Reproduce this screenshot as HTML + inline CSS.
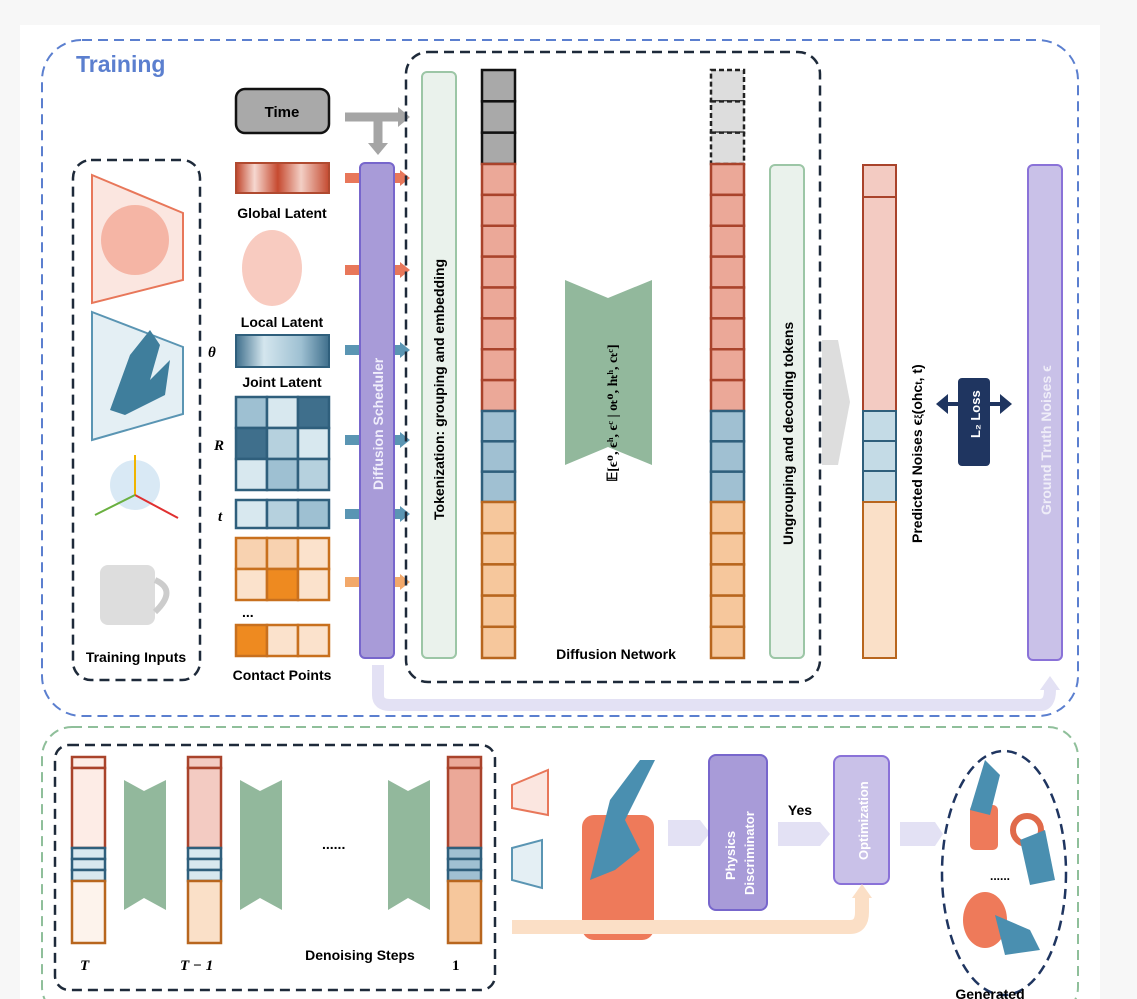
<!DOCTYPE html>
<html><head><meta charset="utf-8"><style>
body{margin:0;background:#fff;}
svg{display:block;font-family:"Liberation Sans",sans-serif;}
</style></head><body>
<svg id="s" width="1137" height="999" viewBox="0 0 1137 999" xmlns="http://www.w3.org/2000/svg">
<defs>
<linearGradient id="gl" x1="0" x2="1"><stop offset="0" stop-color="#c0442a"/><stop offset=".2" stop-color="#f6d8d0"/><stop offset=".45" stop-color="#c64a30"/><stop offset=".7" stop-color="#f3cfc5"/><stop offset="1" stop-color="#c44a30"/></linearGradient>
<linearGradient id="jl" x1="0" x2="1"><stop offset="0" stop-color="#3f6f8c"/><stop offset=".3" stop-color="#d4e6ee"/><stop offset=".7" stop-color="#9ec0d2"/><stop offset="1" stop-color="#3f6f8c"/></linearGradient>
</defs>
<rect x="0" y="0" width="1137" height="999" fill="#f7f7f7"/>
<rect x="20" y="25" width="1080" height="974" fill="#fff"/>
<rect x="42" y="40" width="1036" height="676" rx="40" fill="none" stroke="#5b7fcf" stroke-width="2" stroke-dasharray="10 6"/>
<text x="76" y="72" font-size="23" font-weight="bold" fill="#5b7fcf">Training</text>
<rect x="42" y="727" width="1036" height="290" rx="30" fill="none" stroke="#8fbf9a" stroke-width="2" stroke-dasharray="10 6"/>

<!-- training inputs -->
<rect x="73" y="160" width="127" height="520" rx="18" fill="none" stroke="#1e2a3a" stroke-width="2.5" stroke-dasharray="10 6"/>
<polygon points="92,175 183,213 183,280 92,303" fill="#fbe6e0" stroke="#e8775a" stroke-width="2"/>
<ellipse cx="135" cy="240" rx="34" ry="35" fill="#f2a08c" opacity=".7"/>
<polygon points="92,312 183,347 183,414 92,440" fill="#e4eff4" stroke="#5a95b3" stroke-width="2"/>
<path d="M110,410 L130,355 L150,330 L160,345 L150,380 L170,360 L165,395 L125,415 Z" fill="#3f7e9c"/>
<circle cx="135" cy="485" r="25" fill="#cfe3f3" opacity=".8"/>
<line x1="135" y1="495" x2="135" y2="455" stroke="#f0b400" stroke-width="2"/>
<line x1="135" y1="495" x2="178" y2="518" stroke="#e03030" stroke-width="2"/>
<line x1="135" y1="495" x2="95" y2="515" stroke="#6ab040" stroke-width="2"/>
<rect x="100" y="565" width="55" height="60" rx="8" fill="#ddd"/>
<path d="M155,580 Q178,590 155,612" fill="none" stroke="#ccc" stroke-width="6"/>
<text x="136" y="662" font-size="14" font-weight="bold" text-anchor="middle">Training Inputs</text>

<!-- latents -->
<rect x="236" y="89" width="93" height="44" rx="9" fill="#a9a9a9" stroke="#111" stroke-width="2.5"/>
<text x="282" y="117" font-size="15" font-weight="bold" text-anchor="middle">Time</text>
<path d="M345,117 H400 M378,117 V145" stroke="#a5a5a5" stroke-width="9" fill="none"/>
<polygon points="398,107 410,117 398,127" fill="#a5a5a5"/>
<polygon points="368,143 388,143 378,155" fill="#a5a5a5"/>
<rect x="236" y="163" width="93" height="30" fill="url(#gl)" stroke="#b04a30" stroke-width="2"/>
<text x="282" y="218" font-size="14" font-weight="bold" text-anchor="middle">Global Latent</text>
<ellipse cx="272" cy="268" rx="30" ry="38" fill="#f2a08c" opacity=".55"/>
<text x="282" y="327" font-size="14" font-weight="bold" text-anchor="middle">Local Latent</text>
<text x="208" y="357" font-size="15" font-weight="bold" font-style="italic" font-family="Liberation Serif">θ</text>
<rect x="236" y="335" width="93" height="32" fill="url(#jl)" stroke="#2f5f7c" stroke-width="2"/>
<text x="282" y="387" font-size="14" font-weight="bold" text-anchor="middle">Joint Latent</text>
<text x="214" y="450" font-size="15" font-weight="bold" font-style="italic" font-family="Liberation Serif">R</text>
<text x="218" y="521" font-size="15" font-weight="bold" font-style="italic" font-family="Liberation Serif">t</text>
<g id="mats"></g>
<text x="242" y="617" font-size="14" font-weight="bold">...</text>
<text x="282" y="680" font-size="14" font-weight="bold" text-anchor="middle">Contact Points</text>
<g id="arrows"></g>

<rect x="360" y="163" width="34" height="495" rx="5" fill="#a89bd8" stroke="#7766cc" stroke-width="2"/>
<text transform="translate(383,490) rotate(-90)" font-size="14" fill="#f0eefb" font-weight="bold">Diffusion Scheduler</text>

<rect x="406" y="52" width="414" height="630" rx="22" fill="none" stroke="#1e2a3a" stroke-width="2.5" stroke-dasharray="10 6"/>
<rect x="422" y="72" width="34" height="586" rx="5" fill="#eaf2ec" stroke="#9cc6a6" stroke-width="2"/>
<text transform="translate(444,520) rotate(-90)" font-size="14" font-weight="bold">Tokenization: grouping and embedding</text>
<rect x="770" y="165" width="34" height="493" rx="5" fill="#eaf2ec" stroke="#9cc6a6" stroke-width="2"/>
<text transform="translate(793,545) rotate(-90)" font-size="14" font-weight="bold">Ungrouping and decoding tokens</text>
<polygon points="565,280 608,298 652,280 652,465 608,447 565,465" fill="#92b89c"/>
<text transform="translate(617,482) rotate(-90)" font-size="14" font-weight="bold" font-family="Liberation Serif">𝔼[ϵᴼ, ϵʰ, ϵᶜ | oₜᴼ, hₜʰ, cₜᶜ]</text>
<text x="616" y="659" font-size="14" font-weight="bold" text-anchor="middle">Diffusion Network</text>
<g id="stacks"></g>
<polygon points="822,340 838,340 850,402 838,465 822,465" fill="#ddd"/>

<rect x="863" y="165" width="33" height="32" fill="#f3cbc2" stroke="#a9432b" stroke-width="2"/>
<rect x="863" y="197" width="33" height="214" fill="#f3cbc2" stroke="#a9432b" stroke-width="2"/>
<rect x="863" y="411" width="33" height="30" fill="#c4dbe6" stroke="#2f5f7c" stroke-width="2"/>
<rect x="863" y="441" width="33" height="30" fill="#c4dbe6" stroke="#2f5f7c" stroke-width="2"/>
<rect x="863" y="471" width="33" height="31" fill="#c4dbe6" stroke="#2f5f7c" stroke-width="2"/>
<rect x="863" y="502" width="33" height="156" fill="#fae0c8" stroke="#b8661e" stroke-width="2"/>
<text transform="translate(922,543) rotate(-90)" font-size="14" font-weight="bold">Predicted Noises  ϵ<tspan font-size="10">ξ</tspan>(ohc<tspan font-size="10">t</tspan>, t)</text>
<path d="M940,404 H1007" stroke="#1f3560" stroke-width="4"/>
<polygon points="936,404 948,394 948,414" fill="#1f3560"/><polygon points="1012,404 1000,394 1000,414" fill="#1f3560"/>
<rect x="958" y="378" width="32" height="88" rx="4" fill="#1f3560"/>
<text transform="translate(980,438) rotate(-90)" font-size="13" font-weight="bold" fill="#fff">L₂ Loss</text>
<rect x="1028" y="165" width="34" height="495" rx="5" fill="#c9c1e8" stroke="#8a72d8" stroke-width="2"/>
<text transform="translate(1051,515) rotate(-90)" font-size="14" font-weight="bold" fill="#efedf8">Ground Truth Noises ϵ</text>
<path d="M378,665 V695 Q378,705 390,705 H1040 Q1050,705 1050,690" stroke="#e3e1f4" stroke-width="12" fill="none"/>
<polygon points="1040,690 1060,690 1050,676" fill="#e3e1f4"/>

<!-- inference -->
<rect x="55" y="745" width="440" height="245" rx="14" fill="none" stroke="#1e2a3a" stroke-width="2.5" stroke-dasharray="10 6"/>
<g id="inf"></g>
<text x="80" y="970" font-size="15" font-weight="bold" font-style="italic" font-family="Liberation Serif">T</text>
<text x="180" y="970" font-size="15" font-weight="bold" font-style="italic" font-family="Liberation Serif">T − 1</text>
<text x="452" y="970" font-size="15" font-weight="bold" font-family="Liberation Serif">1</text>
<text x="360" y="960" font-size="14" font-weight="bold" text-anchor="middle">Denoising Steps</text>
<text x="322" y="849" font-size="14" font-weight="bold">......</text>
<polygon points="512,785 548,770 548,815 512,808" fill="#fbe6e0" stroke="#e8775a" stroke-width="2"/>
<polygon points="512,848 542,840 542,888 512,880" fill="#e4eff4" stroke="#5a95b3" stroke-width="2"/>
<rect x="582" y="815" width="72" height="125" rx="12" fill="#ee7a5a"/>
<path d="M590,880 L610,800 L640,760 L655,760 L625,820 L640,850 L615,870 Z" fill="#4a8fb0"/>
<polygon points="668,820 700,820 710,833 700,846 668,846" fill="#e3e1f4"/>
<rect x="709" y="755" width="58" height="155" rx="7" fill="#a89bd8" stroke="#7766cc" stroke-width="2"/>
<text transform="translate(735,880) rotate(-90)" font-size="13" font-weight="bold" fill="#fff">Physics</text>
<text transform="translate(754,895) rotate(-90)" font-size="13" font-weight="bold" fill="#fff">Discriminator</text>
<text x="800" y="815" font-size="14" font-weight="bold" text-anchor="middle">Yes</text>
<polygon points="778,822 820,822 830,834 820,846 778,846" fill="#e3e1f4"/>
<rect x="834" y="756" width="55" height="128" rx="7" fill="#c9c1e8" stroke="#8a72d8" stroke-width="2"/>
<text transform="translate(868,860) rotate(-90)" font-size="13" font-weight="bold" fill="#fff">Optimization</text>
<path d="M512,927 H850 Q862,927 862,912 V895" stroke="#fbdfc6" stroke-width="14" fill="none"/>
<polygon points="852,898 872,898 862,884" fill="#fbdfc6"/>
<polygon points="900,822 935,822 943,834 935,846 900,846" fill="#e3e1f4"/>
<ellipse cx="1004" cy="873" rx="62" ry="122" fill="none" stroke="#1f3560" stroke-width="2.5" stroke-dasharray="10 6"/>
<rect x="970" y="805" width="28" height="45" rx="5" fill="#ee7a5a"/>
<path d="M970,810 L985,760 L1000,775 L990,815 Z" fill="#4a8fb0"/>
<circle cx="1027" cy="830" r="14" fill="none" stroke="#e06a4a" stroke-width="6"/>
<path d="M1020,840 L1045,830 L1055,880 L1030,885 Z" fill="#4a8fb0"/>
<text x="990" y="880" font-size="12" font-weight="bold">......</text>
<ellipse cx="985" cy="920" rx="22" ry="28" fill="#ee7a5a"/>
<path d="M995,915 L1030,930 L1040,950 L1005,955 Z" fill="#4a8fb0"/>
<text x="990" y="999" font-size="14" font-weight="bold" text-anchor="middle">Generated</text>
</svg>
<script>
const NS='http://www.w3.org/2000/svg';
const svg=document.getElementById('s');
function R(p,a){const e=document.createElementNS(NS,'rect');for(const k in a)e.setAttribute(k,a[k]);p.appendChild(e);return e;}
const C={g:['#a9a9a9','#111'],gd:['#ddd','#222'],r:['#eba898','#a9432b'],b:['#a0c0d2','#2f5f7c'],o:['#f6c79c','#b8661e']};
const stackGroups=[['g',3],['r',8],['b',3],['o',5]];
const stackBounds=[70,164,411,502,658];
const st=document.getElementById('stacks');
[[482,'g'],[711,'gd']].forEach(([x,first])=>{
 stackGroups.forEach(([c,n],gi)=>{
  const col=gi===0?first:c;const y0=stackBounds[gi],h=(stackBounds[gi+1]-y0)/n;
  for(let i=0;i<n;i++){const e=R(st,{x:x,y:y0+i*h,width:33,height:h,fill:C[col][0],stroke:C[col][1],'stroke-width':2.5});
   if(col==='gd')e.setAttribute('stroke-dasharray','5 3');
   
   }
 });
});
const m=document.getElementById('mats');
const rot=[['#9ec0d2','#d8e8ef','#3f6f8c'],['#3f6f8c','#b6d1de','#d8e8ef'],['#d8e8ef','#9ec0d2','#b6d1de']];
rot.forEach((row,r)=>row.forEach((f,c)=>R(m,{x:236+c*31,y:397+r*31,width:31,height:31,fill:f,stroke:'#2f5f7c','stroke-width':2.5})));
['#d8e8ef','#b6d1de','#9ec0d2'].forEach((f,c)=>R(m,{x:236+c*31,y:500,width:31,height:28,fill:f,stroke:'#2f5f7c','stroke-width':2.5}));
[['#f8d2b0','#f8d2b0','#fbe2cc'],['#fbe2cc','#ee8a20','#fbe2cc']].forEach((row,r)=>row.forEach((f,c)=>R(m,{x:236+c*31,y:538+r*31,width:31,height:31,fill:f,stroke:'#c8701e','stroke-width':2.5})));
['#ee8a20','#fbe2cc','#fbe2cc'].forEach((f,c)=>R(m,{x:236+c*31,y:625,width:31,height:31,fill:f,stroke:'#c8701e','stroke-width':2.5}));
const ar=document.getElementById('arrows');
[[178,'#e8775a'],[270,'#e8775a'],[350,'#5a95b3'],[440,'#5a95b3'],[514,'#5a95b3'],[582,'#f2a86a']].forEach(([y,c])=>{
 R(ar,{x:345,y:y-5,width:15,height:10,fill:c});R(ar,{x:394,y:y-5,width:8,height:10,fill:c});
 const p=document.createElementNS(NS,'polygon');p.setAttribute('points',`400,${y-8} 410,${y} 400,${y+8}`);p.setAttribute('fill',c);ar.appendChild(p);});
const inf=document.getElementById('inf');
const infCols=[[72,'#fdece6','#fdf3ec'],[188,'#f3cbc2','#fae0c8'],[448,'#eba898','#f6c79c']];
infCols.forEach(([x,rf,of],i)=>{
 R(inf,{x:x,y:757,width:33,height:11,fill:rf,stroke:'#a9432b','stroke-width':2.5});
 R(inf,{x:x,y:768,width:33,height:80,fill:rf,stroke:'#a9432b','stroke-width':2.5});
 for(let k=0;k<3;k++)R(inf,{x:x,y:848+k*11,width:33,height:11,fill:i==2?'#a0c0d2':'#d8e8ef',stroke:'#2f5f7c','stroke-width':2.5});
 R(inf,{x:x,y:881,width:33,height:62,fill:of,stroke:'#b8661e','stroke-width':2.5});
});
[[124],[240],[388]].forEach(([x])=>{const p=document.createElementNS(NS,'polygon');
 p.setAttribute('points',`${x},780 ${x+20},791 ${x+42},780 ${x+42},910 ${x+20},898 ${x},910`);p.setAttribute('fill','#92b89c');inf.appendChild(p);});
</script>
</body></html>
